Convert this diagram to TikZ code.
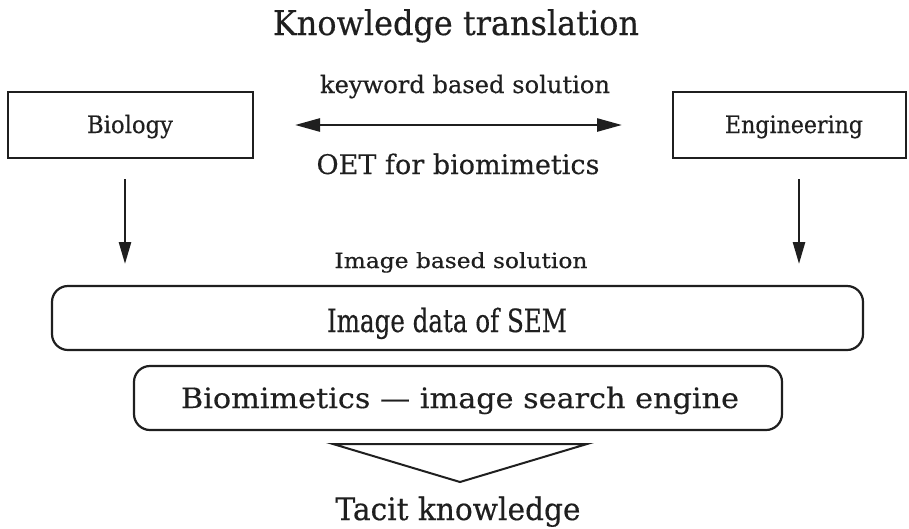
\documentclass[tikz,border=0pt]{standalone}
\usepackage{fontspec}
\usepackage{graphicx}
\setmainfont{DejaVu Serif}[FakeBold=0.4]
\usetikzlibrary{arrows.meta}

% text set at a given size and stretched to a given width
\newcommand\fittext[3]{\resizebox{#1}{\height}{\fontsize{#2}{#2}\selectfont #3}}

\tikzset{
  plainbox/.style={draw, line width=2.2pt},
  roundbox/.style={draw, line width=2.2pt, rounded corners=16pt},
  label/.style={inner sep=0pt, anchor=base, text=black!88},
  flow/.style={line width=2.6pt, -{Triangle[length=22pt,width=12pt]}},
  both/.style={line width=2.6pt, {Triangle[length=25pt,width=13pt]}-{Triangle[length=25pt,width=13pt]}},
}

\begin{document}
\begin{tikzpicture}[x=1pt,y=-1pt, color=black!88]
\useasboundingbox (0,0) rectangle (909,528);

% heading
\node[label] (title) at (456,35) {\fittext{366pt}{34}{Knowledge translation}};

% the two domains
\draw[plainbox] (8,92) rectangle (253,158);
\node[label] (bio) at (130,133) {\fittext{86pt}{24}{Biology}};
\draw[plainbox] (673,92) rectangle (906,158);
\node[label] (eng) at (794,133) {\fittext{138pt}{24}{Engineering}};

\coordinate (bioR) at (295,125);
\coordinate (engL) at (622,125);
\draw[both] (bioR) -- (engL);
\node[label] (kw) at (465,93) {\fittext{290pt}{24}{keyword based solution}};
\node[label] (oet) at (458,174) {\fittext{283pt}{27}{OET for biomimetics}};

% downward links
\coordinate (bioTop) at (125,179);
\coordinate (bioTip) at (125,264);
\coordinate (engTop) at (799,179);
\coordinate (engTip) at (799,264);
\draw[flow] (bioTop) -- (bioTip);
\draw[flow] (engTop) -- (engTip);

\node[label] (img) at (461,268) {\fittext{253pt}{21}{Image based solution}};

% image layers
\draw[roundbox] (52,286) rectangle (863,350);
\node[label] (sem) at (447,332) {\fittext{240pt}{32}{Image data of SEM}};
\draw[roundbox] (134,366) rectangle (782,430);
\node[label] (engine) at (460,408) {\fittext{558pt}{28}{Biomimetics --- image search engine}};

% funnel
\coordinate (fL) at (333,444);
\coordinate (fR) at (587,444);
\coordinate (fA) at (460,482);
\draw[line width=2pt, line join=miter] (fL) -- (fR) -- (fA) -- cycle;

\node[label] (tacit) at (458,520) {\fittext{245pt}{31}{Tacit knowledge}};
\end{tikzpicture}
\end{document}
